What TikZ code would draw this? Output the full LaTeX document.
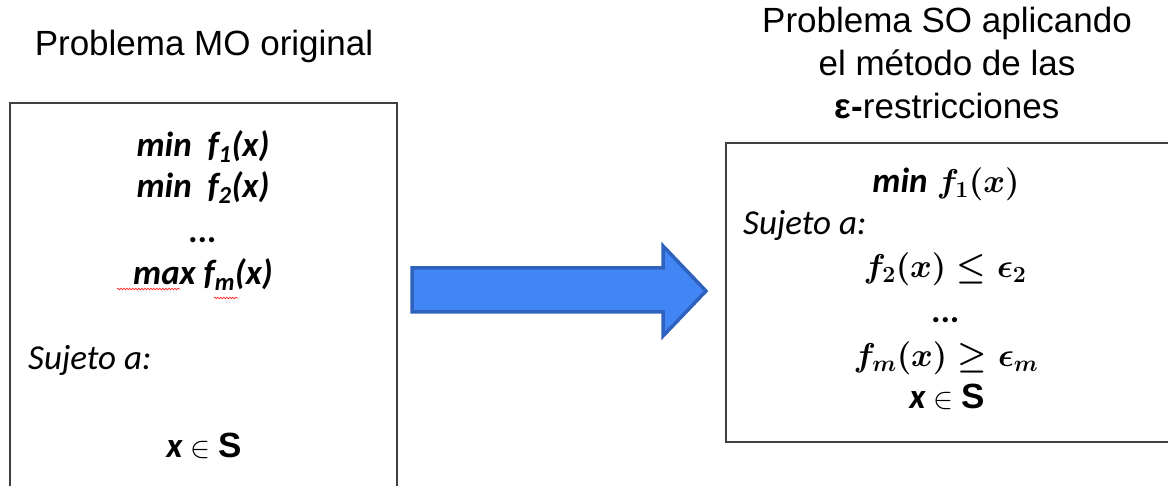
\RequirePackage{fix-cm}
\documentclass[tikz,border=0pt]{standalone}
\usepackage{amsmath,bm}
\usepackage{fontspec}
\setmainfont{Liberation Sans}
\newfontfamily\carl{Carlito}
\usetikzlibrary{decorations.pathmorphing}
\definecolor{arrfill}{HTML}{4285F4}
\definecolor{arrdraw}{HTML}{2F62BE}
\definecolor{boxline}{HTML}{404040}
\begin{document}
\begin{tikzpicture}[x=1pt,y=-1pt,
  title/.style={anchor=base,inner sep=0pt,font=\fontsize{35}{42}\selectfont},
  boxtext/.style={anchor=base,inner sep=0pt,font=\carl\bfseries\itshape\fontsize{35}{42}\selectfont},
  plaintext/.style={anchor=base west,inner sep=0pt,font=\carl\itshape\fontsize{35}{42}\selectfont},
  mathtext/.style={anchor=base,inner sep=0pt,font=\fontsize{33}{40}\selectfont\boldmath},
  frame/.style={draw=boxline,line width=1.5pt},
  spell/.style={draw=red!85,line width=0.7pt,decorate,decoration={snake,amplitude=0.8pt,segment length=3pt}}]
\useasboundingbox (0,0) rectangle (1168,486);
\begin{scope}
\clip (0,0) rectangle (1168,486);
% titles
\node[title] (t1) at (204,56) {Problema MO original};
\node[title] (t2a) at (947,33) {Problema SO aplicando};
\node[title] (t2b) at (947,76) {el método de las};
\node[title] (t2c) at (947,119) {\textbf{ε-}restricciones};
% boxes
\draw[frame] (10,103) rectangle (397,520);
\draw[frame] (726,143) rectangle (1190,442);
% arrow
\draw[fill=arrfill,draw=arrdraw,line width=3.5pt,line join=miter]
  (412,268) -- (663,268) -- (663,246) -- (706,291) -- (663,336) -- (663,312) -- (412,312) -- cycle;
% left box text
\node[boxtext] (l1) at (203,157) {min\ \ f\textsubscript{1}(x)};
\node[boxtext] (l2) at (203,198) {min\ \ f\textsubscript{2}(x)};
\node[boxtext] (l3) at (203,243) {...};
\node[boxtext] (l4) at (203,285) {max f\textsubscript{m}(x)};
\node[plaintext] (l5) at (28,370) {Sujeto a:};
\node[boxtext] (l6) at (204,457) {x {\normalfont\fontsize{30}{36}\selectfont$\in$} {\upshape\fontspec{Liberation Sans}\bfseries S}};
\draw[spell] (117,289) -- (180,289);
\draw[spell] (214,298) -- (238,298);
% right box text
\node[mathtext] (r1) at (946,193) {{\carl\bfseries\itshape\fontsize{35}{42}\selectfont min} $f_1(x)$};
\node[plaintext] (r2) at (743,235) {Sujeto a:};
\node[mathtext] (r3) at (945,278) {$f_2(x) \le \epsilon_2$};
\node[boxtext] (r4) at (946,323) {...};
\node[mathtext] (r5) at (946,367) {$f_m(x) \ge \epsilon_m$};
\node[boxtext] (r6) at (947,408) {x {\normalfont\fontsize{30}{36}\selectfont$\in$} {\upshape\fontspec{Liberation Sans}\bfseries S}};
\end{scope}
\end{tikzpicture}
\end{document}
